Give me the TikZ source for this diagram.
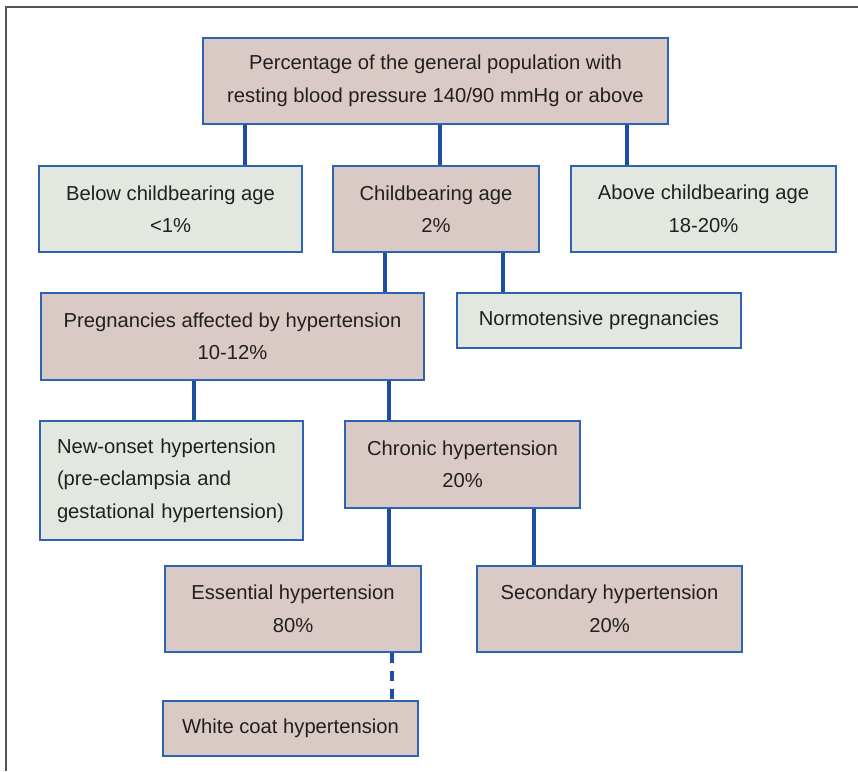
\documentclass[tikz,border=0pt]{standalone}
\usepackage{fontspec}
\setmainfont{Liberation Sans}
\begin{document}
\begin{tikzpicture}[x=1pt,y=-1pt,
  box/.style={draw=boxline,line width=1.4pt,inner sep=0pt,align=center,
    text=txt,font=\fontsize{20.2}{32.5}\selectfont},
  tanbox/.style={box,fill=tanfill},
  grnbox/.style={box,fill=grnfill},
  conn/.style={draw=connblue,line width=4pt},
]
\definecolor{tanfill}{HTML}{D9CAC5}
\definecolor{grnfill}{HTML}{E2E7E0}
\definecolor{boxline}{HTML}{2E62B2}
\definecolor{connblue}{HTML}{1B4FA3}
\definecolor{txt}{HTML}{231F20}
\definecolor{frame}{HTML}{555555}
\useasboundingbox (0,0) rectangle (858,771);
\draw[frame,line width=1.5pt] (6,771) -- (6,7) -- (858,7);

\node[tanbox,minimum width=465pt,minimum height=86pt] (top) at (435.5,81)
  {Percentage of the general population with\\resting blood pressure 140/90 mmHg or above};
\node[grnbox,minimum width=263pt,minimum height=86pt] (below) at (170.5,209)
  {Below childbearing age\\<1\%};
\node[tanbox,minimum width=206pt,minimum height=86pt] (child) at (436,209)
  {Childbearing age\\2\%};
\node[grnbox,minimum width=265pt,minimum height=86pt] (above) at (703.5,209)
  {Above childbearing age\\18-20\%};
\node[tanbox,minimum width=383pt,minimum height=87pt] (preg) at (232.5,336.5)
  {Pregnancies affected by hypertension\\10-12\%};
\node[grnbox,minimum width=284pt,minimum height=55pt] (normo) at (599,320.5)
  {Normotensive pregnancies};
\node[grnbox,minimum width=263pt,minimum height=119pt,align=left,text width=229pt,inner xsep=17pt] (newon) at (171.5,480.5)
  {New-onset hypertension\\(pre-eclampsia and\\gestational hypertension)};
\node[tanbox,minimum width=235pt,minimum height=87pt] (chronic) at (462.5,464.5)
  {Chronic hypertension\\20\%};
\node[tanbox,minimum width=256pt,minimum height=86pt] (essential) at (293,609)
  {Essential hypertension\\80\%};
\node[tanbox,minimum width=265pt,minimum height=86pt] (secondary) at (609.5,609)
  {Secondary hypertension\\20\%};
\node[tanbox,minimum width=255pt,minimum height=55pt] (white) at (290.5,728.5)
  {White coat hypertension};

\draw[conn] (top.south -| 245,0) -- (below.north -| 245,0);
\draw[conn] (top.south -| 440,0) -- (child.north -| 440,0);
\draw[conn] (top.south -| 627,0) -- (above.north -| 627,0);
\draw[conn] (child.south -| 385,0) -- (preg.north -| 385,0);
\draw[conn] (child.south -| 503,0) -- (normo.north -| 503,0);
\draw[conn] (preg.south -| 194,0) -- (newon.north -| 194,0);
\draw[conn] (preg.south -| 389,0) -- (chronic.north -| 389,0);
\draw[conn] (chronic.south -| 389,0) -- (essential.north -| 389,0);
\draw[conn] (chronic.south -| 534,0) -- (secondary.north -| 534,0);
\draw[conn,dash pattern=on 10pt off 8pt] (essential.south -| 392,0) -- (white.north -| 392,0);
\end{tikzpicture}
\end{document}
